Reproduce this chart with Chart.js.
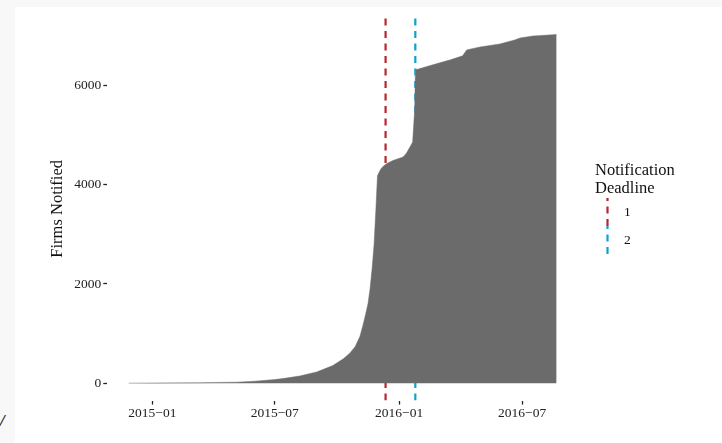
<!DOCTYPE html>
<html>
<head>
<meta charset="utf-8">
<script src="https://cdn.jsdelivr.net/npm/chart.js@4.4.1/dist/chart.umd.min.js"></script>
<style>
  html, body { margin: 0; padding: 0; background: #f8f8f8; width: 722px; height: 443px; overflow: hidden; }
  #frame { position: absolute; left: 15px; top: 7px; width: 707px; height: 436px; background: #fff; }
  #mark { position: absolute; left: 0px; top: 411px; font: italic bold 17px "Liberation Serif", serif; color: #222; }
</style>
</head>
<body>
<div id="mark">/</div>
<div id="frame"><canvas id="chart" width="707" height="436"></canvas></div>
<script>
'use strict';
/* ---------------------------------------------------------------- DATA */
const dates = ['2014-11-27', '2015-01-01', '2015-03-12', '2015-05-06', '2015-06-02', '2015-07-01',
  '2015-07-13', '2015-08-07', '2015-09-01', '2015-09-25', '2015-10-11', '2015-10-20', '2015-10-28',
  '2015-11-04', '2015-11-08', '2015-11-12', '2015-11-16', '2015-11-19', '2015-11-22', '2015-11-25',
  '2015-11-28', '2015-11-30', '2015-12-02', '2015-12-05', '2015-12-09', '2015-12-14', '2015-12-23',
  '2016-01-07', '2016-01-12', '2016-01-17', '2016-01-21', '2016-01-24', '2016-01-25', '2016-01-26',
  '2016-02-20', '2016-03-17', '2016-04-04', '2016-04-10', '2016-04-30', '2016-05-29', '2016-06-20',
  '2016-06-28', '2016-07-17', '2016-08-21'];
const firmsNotified = [0, 3, 8, 20, 40, 72,
  92, 145, 225, 355, 495, 605, 735,
  940, 1140, 1360, 1600, 1900, 2300, 2800,
  3600, 4180, 4240, 4320, 4380, 4430, 4490,
  4560, 4640, 4760, 4860, 5500, 6200, 6320,
  6420, 6520, 6600, 6720, 6780, 6840, 6920,
  6960, 7000, 7030];

const deadlineNames = ['1', '2'];
const deadlineDates = ['2015-12-12', '2016-01-25'];

const xTickDates = ['2015-01-01', '2015-07-01', '2016-01-01', '2016-07-01'];
const xTickLabels = ['2015\u221201', '2015\u221207', '2016\u221201', '2016\u221207'];
const yTickValues = [0, 2000, 4000, 6000];
const yTickLabels = ['0', '2000', '4000', '6000'];

/* ---------------------------------------------------------------- STYLE */
const AREA_COLOR = '#6b6b6b';
const DEADLINE_COLORS = ['#b8262b', '#0ea0d0'];
const FONT = '"Liberation Serif", "Times New Roman", serif';
const TEXT_COLOR = '#111111';
const TICK_COLOR = '#222222';

function toMs(d) {
  const p = d.split('-').map(Number);
  return Date.UTC(p[0], p[1] - 1, p[2]);
}
//turns a yyyy-mm-dd string into a timestamp for the linear x scale

// ggplot style 5% expansion of both axes
const xFirst = toMs(dates[0]);
const xLast = toMs(dates[dates.length - 1]);
const xMin = xFirst - 0.05 * (xLast - xFirst);
const xMax = xLast + 0.05 * (xLast - xFirst);
const yTop = Math.max(...firmsNotified);
const yMin = -0.05 * yTop;
const yMax = yTop * 1.05;

const areaPoints = dates.map((d, i) => ({ x: toMs(d), y: firmsNotified[i] }));

const deadlineSets = deadlineDates.map((d, i) => ({
  label: deadlineNames[i],
  data: [{ x: toMs(d), y: yMin }, { x: toMs(d), y: yMax }],
  borderColor: DEADLINE_COLORS[i],
  borderWidth: 2.2,
  borderDash: [7, 5.5],
  pointRadius: 0,
  fill: false
}));

/* ---------------------------------------------------------------- LEGEND */
const legendPlugin = {
  id: 'deadlineLegend',
  afterDraw(chart) {
    const c = chart.ctx;
    c.save();
    c.fillStyle = TEXT_COLOR;
    c.font = '16.5px ' + FONT;
    c.textAlign = 'left';
    c.textBaseline = 'alphabetic';
    c.fillText('Notification', 580, 168);
    c.fillText('Deadline', 580, 186);
    c.font = '13.5px ' + FONT;
    c.textBaseline = 'middle';
    deadlineNames.forEach((name, i) => {
      const top = 191 + i * 28;
      c.strokeStyle = DEADLINE_COLORS[i];
      c.lineWidth = 2.2;
      c.setLineDash([7, 5.5]);
      c.lineDashOffset = 4;
      c.beginPath();
      c.moveTo(592.5, top);
      c.lineTo(592.5, top + 28);
      c.stroke();
      c.fillText(name, 609, top + 14);
    });
    c.restore();
  }
};

/* ---------------------------------------------------------------- CHART */
const tickFont = { family: FONT, size: 13.5 };

new Chart(document.getElementById('chart'), {
  type: 'line',
  data: {
    datasets: [{
      label: 'Firms Notified',
      data: areaPoints,
      fill: 'origin',
      backgroundColor: AREA_COLOR,
      borderColor: AREA_COLOR,
      borderWidth: 0.5,
      pointRadius: 0,
      tension: 0
    }, ...deadlineSets]
  },
  options: {
    responsive: false,
    animation: false,
    devicePixelRatio: 1,
    layout: { padding: { top: 6.4, right: 144, left: 0, bottom: 0 } },
    plugins: { legend: { display: false }, tooltip: { enabled: false } },
    scales: {
      x: {
        type: 'linear',
        min: xMin,
        max: xMax,
        border: { display: false },
        grid: { drawOnChartArea: false, tickLength: 4, tickColor: TICK_COLOR, tickWidth: 1.3 },
        ticks: {
          font: tickFont, color: TICK_COLOR, padding: 1, autoSkip: false, maxRotation: 0,
          callback: (v, i) => xTickLabels[i]
        },
        afterBuildTicks: s => { s.ticks = xTickDates.map(d => ({ value: toMs(d) })); },
        afterFit: s => { s.height = 42.4; }
      },
      y: {
        min: yMin,
        max: yMax,
        border: { display: false },
        grid: { drawOnChartArea: false, tickLength: 4, tickColor: TICK_COLOR, tickWidth: 1.3 },
        ticks: {
          font: tickFont, color: TICK_COLOR, padding: 2,
          callback: (v, i) => yTickLabels[i]
        },
        title: {
          display: true, text: 'Firms Notified', color: TEXT_COLOR,
          font: { family: FONT, size: 16.5 }, padding: { top: 33, bottom: 0 }
        },
        afterBuildTicks: s => { s.ticks = yTickValues.map(v => ({ value: v })); },
        afterFit: s => { s.width = 92.3; }
      }
    }
  },
  plugins: [legendPlugin]
});
</script>
</body>
</html>
